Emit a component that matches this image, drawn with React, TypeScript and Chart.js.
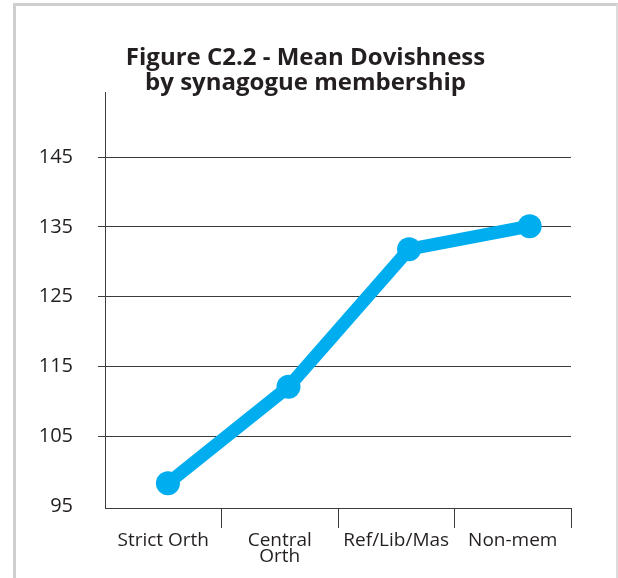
import React, { useEffect, useRef } from "react";
import { Chart, registerables } from "chart.js";

Chart.register(...registerables);

const titleLines = ["Figure C2.2 - Mean Dovishness", "by synagogue membership"];
const categories: (string | string[])[] = ["Strict Orth", ["Central", "Orth"], "Ref/Lib/Mas", "Non-mem"];
const meanDovishness = [98.3, 112.1, 131.8, 135.1];
const yTicks = [95, 105, 115, 125, 135, 145];

const LINE_BLUE = "#00AEEF";
const INK = "#231f20";
const AXIS = "#3c3c3c";

export default function App() {
  const ref = useRef<HTMLCanvasElement | null>(null);

  useEffect(() => {
    if (!ref.current) return;
    const chart = new Chart(ref.current, {
      type: "line",
      data: {
        labels: categories,
        datasets: [
          {
            label: "Mean Dovishness",
            data: meanDovishness.map((v, i) => ({ x: i, y: v })),
            xAxisID: "xp",
            yAxisID: "y",
            borderColor: LINE_BLUE,
            backgroundColor: LINE_BLUE,
            borderWidth: 13,
            pointRadius: 12,
            pointBackgroundColor: LINE_BLUE,
            pointBorderWidth: 0,
            tension: 0,
            fill: false,
          },
        ],
      },
      options: {
        animation: false,
        responsive: false,
        maintainAspectRatio: false,
        layout: { padding: { left: 40, right: 47, top: 0, bottom: 13 } },
        plugins: {
          legend: { display: false },
          tooltip: { enabled: false },
          title: {
            display: true,
            text: titleLines,
            color: INK,
            font: { family: "'Open Sans', sans-serif", size: 24, weight: "bold", lineHeight: 1.06 },
            padding: { top: 45, bottom: -3 },
          },
        },
        scales: {
          x: {
            type: "category",
            offset: true,
            afterFit: (scale: any) => {
              scale.paddingLeft = 0;
              scale.paddingRight = 0;
              scale.height = 57;
            },
            grid: {
              offset: true,
              drawOnChartArea: false,
              drawTicks: true,
              tickLength: 20,
              color: (ctx: any) => (ctx.index === 0 ? "rgba(0,0,0,0)" : AXIS),
            },
            border: { display: true, color: AXIS, width: 1 },
            ticks: {
              color: INK,
              padding: 5,
              maxRotation: 0,
              autoSkip: false,
              font: { family: "'Open Sans', sans-serif", size: 19, lineHeight: 0.82 },
            },
          },
          xp: {
            type: "linear",
            display: false,
            min: -0.522,
            max: 3.343,
          },
          y: {
            type: "linear",
            min: 94.75,
            max: 154.18,
            afterBuildTicks: (scale: any) => {
              scale.ticks = yTicks.map((v) => ({ value: v }));
            },
            afterFit: (scale: any) => {
              scale.width = 65;
            },
            grid: {
              drawTicks: true,
              tickLength: 7,
              color: (ctx: any) => (ctx.tick && ctx.tick.value === 95 ? "rgba(0,0,0,0)" : AXIS),
              lineWidth: 1,
            },
            border: { display: true, color: AXIS, width: 1 },
            ticks: {
              color: INK,
              padding: 25,
              font: { family: "'Open Sans', sans-serif", size: 20 },
            },
          },
        },
      },
    } as any);
    return () => chart.destroy();
  }, []);

  return (
    <div style={{ position: "fixed", left: 0, top: 0, width: 618, height: 578, background: "#fff", overflow: "hidden" }}>
      <div
        style={{
          position: "absolute",
          left: 13,
          top: 3,
          width: 605,
          height: 620,
          boxSizing: "border-box",
          borderTop: "3px solid #cfcfcf",
          borderLeft: "3px solid #cfcfcf",
          borderRight: "2px solid #dcdcdc",
          background: "#fff",
        }}
      />
      <canvas ref={ref} width={618} height={578} style={{ position: "absolute", left: 0, top: 0, display: "block" }} />
    </div>
  );
}
